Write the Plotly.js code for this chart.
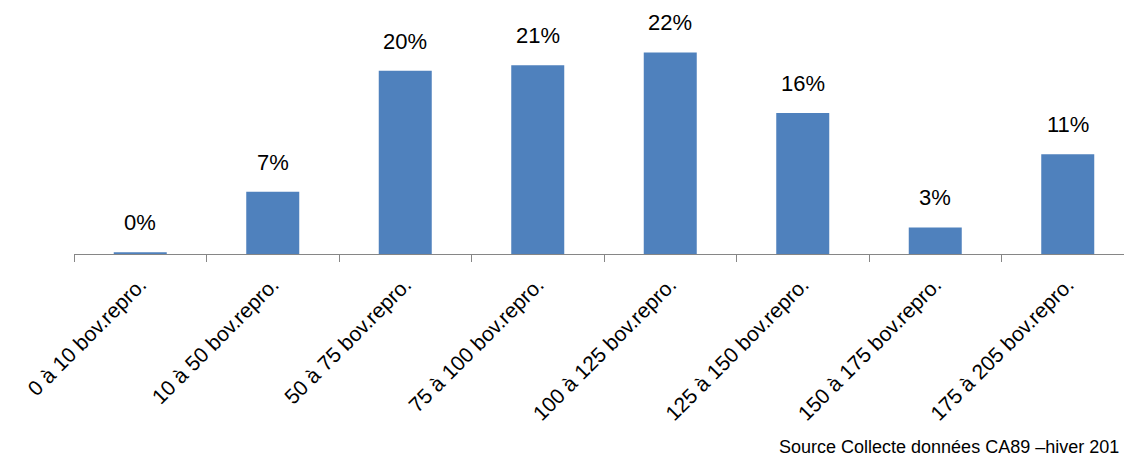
<!DOCTYPE html>
<html>
<head>
<meta charset="utf-8">
<script src="https://cdn.plot.ly/plotly-3.0.1.min.js"></script>
<style>html,body{margin:0;padding:0;background:#fff;}#chart{width:1124px;height:456px;}</style>
</head>
<body>
<div id="chart"></div>
<script>
const categories = ["0 à 10 bov.repro.", "10 à 50 bov.repro.", "50 à 75 bov.repro.", "75 à 100 bov.repro.", "100 à 125 bov.repro.", "125 à 150 bov.repro.", "150 à 175 bov.repro.", "175 à 205 bov.repro."];
const values = [0.2, 6.8, 20.0, 20.6, 22.0, 15.4, 2.9, 10.9];
const valueLabels = ["0%", "7%", "20%", "21%", "22%", "16%", "3%", "11%"];
const sourceText = "Source Collecte données CA89 –hiver 201";

const font = "Liberation Sans, Arial, sans-serif";

const trace = {
  type: "bar",
  x: categories,
  y: values,
  width: 0.4,
  marker: {color: "#4F81BD"},
  hoverinfo: "skip"
};

const annotations = categories.map((c, i) => ({
  x: c, y: values[i], xref: "x", yref: "y",
  text: valueLabels[i], showarrow: false,
  yanchor: "bottom", yshift: 15,
  font: {family: font, size: 22, color: "#000"}
}));
annotations.push({
  xref: "paper", yref: "paper", x: 1, y: 0, xanchor: "right", yanchor: "middle",
  xshift: -3, yshift: -193, text: sourceText, showarrow: false,
  font: {family: font, size: 18, color: "#000"}
});

const layout = {
  width: 1124, height: 456,
  margin: {l: 74, r: 0, t: 25, b: 202},
  paper_bgcolor: "#fff", plot_bgcolor: "#fff",
  showlegend: false,
  xaxis: {
    type: "category",
    range: [-0.5, 7.4245],
    tickson: "boundaries",
    ticks: "outside", ticklen: 7, tickcolor: "#868686", tickwidth: 1,
    showline: true, linecolor: "#868686", linewidth: 1,
    showgrid: false, zeroline: false,
    tickangle: -45,
    ticklabelstandoff: 9,
    tickfont: {family: font, size: 21, color: "#000"}
  },
  yaxis: {
    range: [0, 25],
    visible: false, showgrid: false, zeroline: false
  },
  annotations: annotations
};

Plotly.newPlot("chart", [trace], layout, {displayModeBar: false, staticPlot: true});
</script>
</body>
</html>
